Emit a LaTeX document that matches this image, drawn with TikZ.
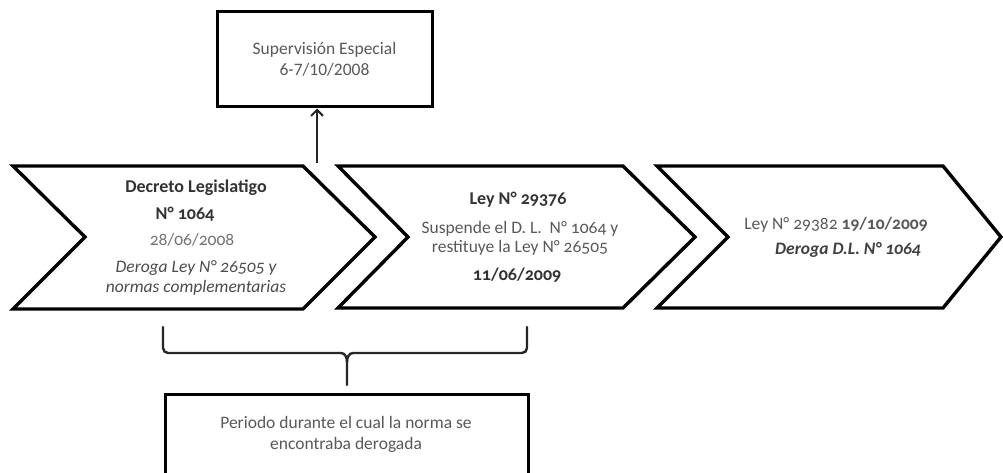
\documentclass[tikz,border=0pt]{standalone}
\usepackage{fontspec}
\setmainfont{Carlito}
\usetikzlibrary{arrows.meta}
\begin{document}
\begin{tikzpicture}[x=1pt,y=-1pt,
  chev/.style={draw=black,line width=3.4pt,line join=miter},
  frame/.style={draw=black,line width=3pt,inner sep=0pt},
  txt/.style={inner sep=0pt,align=center,text=black!65,font=\fontsize{17.5}{19}\selectfont\addfontfeatures{Numbers=OldStyle}},
  btxt/.style={txt,text=black!80,font=\fontsize{18}{19}\selectfont\bfseries\addfontfeatures{Numbers=OldStyle}},
  itxt/.style={txt,text=black!70,font=\fontsize{17.5}{20}\selectfont\itshape\addfontfeatures{Numbers=OldStyle}},
  ptxt/.style={inner sep=0pt,align=center,text=black!65,font=\fontsize{17.5}{21}\selectfont},
  conn/.style={draw=black!85,line width=2pt},
  brace/.style={draw=black!85,line width=2.4pt,line cap=round}]
\useasboundingbox (0,0) rectangle (1003,473);
\fill[white] (0,0) rectangle (1003,473);
% chevrons
\draw[chev] (13,166) -- (303,166) -- (375,237) -- (303,309) -- (13,309) -- (85,237) -- cycle;
\draw[chev] (338,166) -- (623,166) -- (695,237) -- (623,308) -- (338,308) -- (408,237) -- cycle;
\draw[chev] (657,166) -- (943,166) -- (1001,237) -- (943,308) -- (657,308) -- (728,237) -- cycle;
% chevron 1 text
\node[btxt] (c1a) at (196,188) {Decreto Legislatigo};
\node[btxt] (c1b) at (185,214) {N° 1064};
\node[txt,text=black!55] (c1c) at (192,240) {28/06/2008};
\node[itxt] (c1d) at (196,278) {Deroga Ley N° 26505 y\\normas complementarias};
% chevron 2 text
\node[btxt] (c2a) at (518,200) {Ley N° 29376};
\node[txt] (c2b) at (520,238) {Suspende el D. L.\ \ N° 1064 y\\restituye la Ley N° 26505};
\node[btxt] (c2c) at (517,275) {11/06/2009};
% chevron 3 text
\node[txt] (c3a) at (836,225) {Ley N° 29382 \textbf{19/10/2009}};
\node[itxt,text=black!75,font=\fontsize{17.5}{19}\selectfont\bfseries\itshape\addfontfeatures{Numbers=OldStyle}] (c3b) at (848,250) {Deroga D.L. N° 1064};
% top box
\node[frame,minimum width=215pt,minimum height=95pt,ptxt] (sup) at (324.5,59.5) {Supervisión Especial\\6-7/10/2008};
\coordinate (gap) at (317,163);
\draw[conn,-{Straight Barb[length=6pt,width=12pt]}] (gap) -- (gap |- sup.south);
% brace
\coordinate (bl) at (163,327);
\coordinate (br) at (527,327);
\coordinate (tip) at (347,385);
\draw[brace,rounded corners=5pt] (bl) |- (341,353);
\draw[brace,rounded corners=5pt] (br) |- (353,353);
\draw[brace] (341,353) to[out=0,in=90] (347,362) -- (tip);
\draw[brace] (353,353) to[out=180,in=90] (347,362);
% bottom box
\node[frame,minimum width=363pt,minimum height=100pt,anchor=north] (per) at (346.5,393) {};
\node[ptxt] (pertxt) at (346,434) {Periodo durante el cual la norma se\\encontraba derogada};
\end{tikzpicture}
\end{document}
